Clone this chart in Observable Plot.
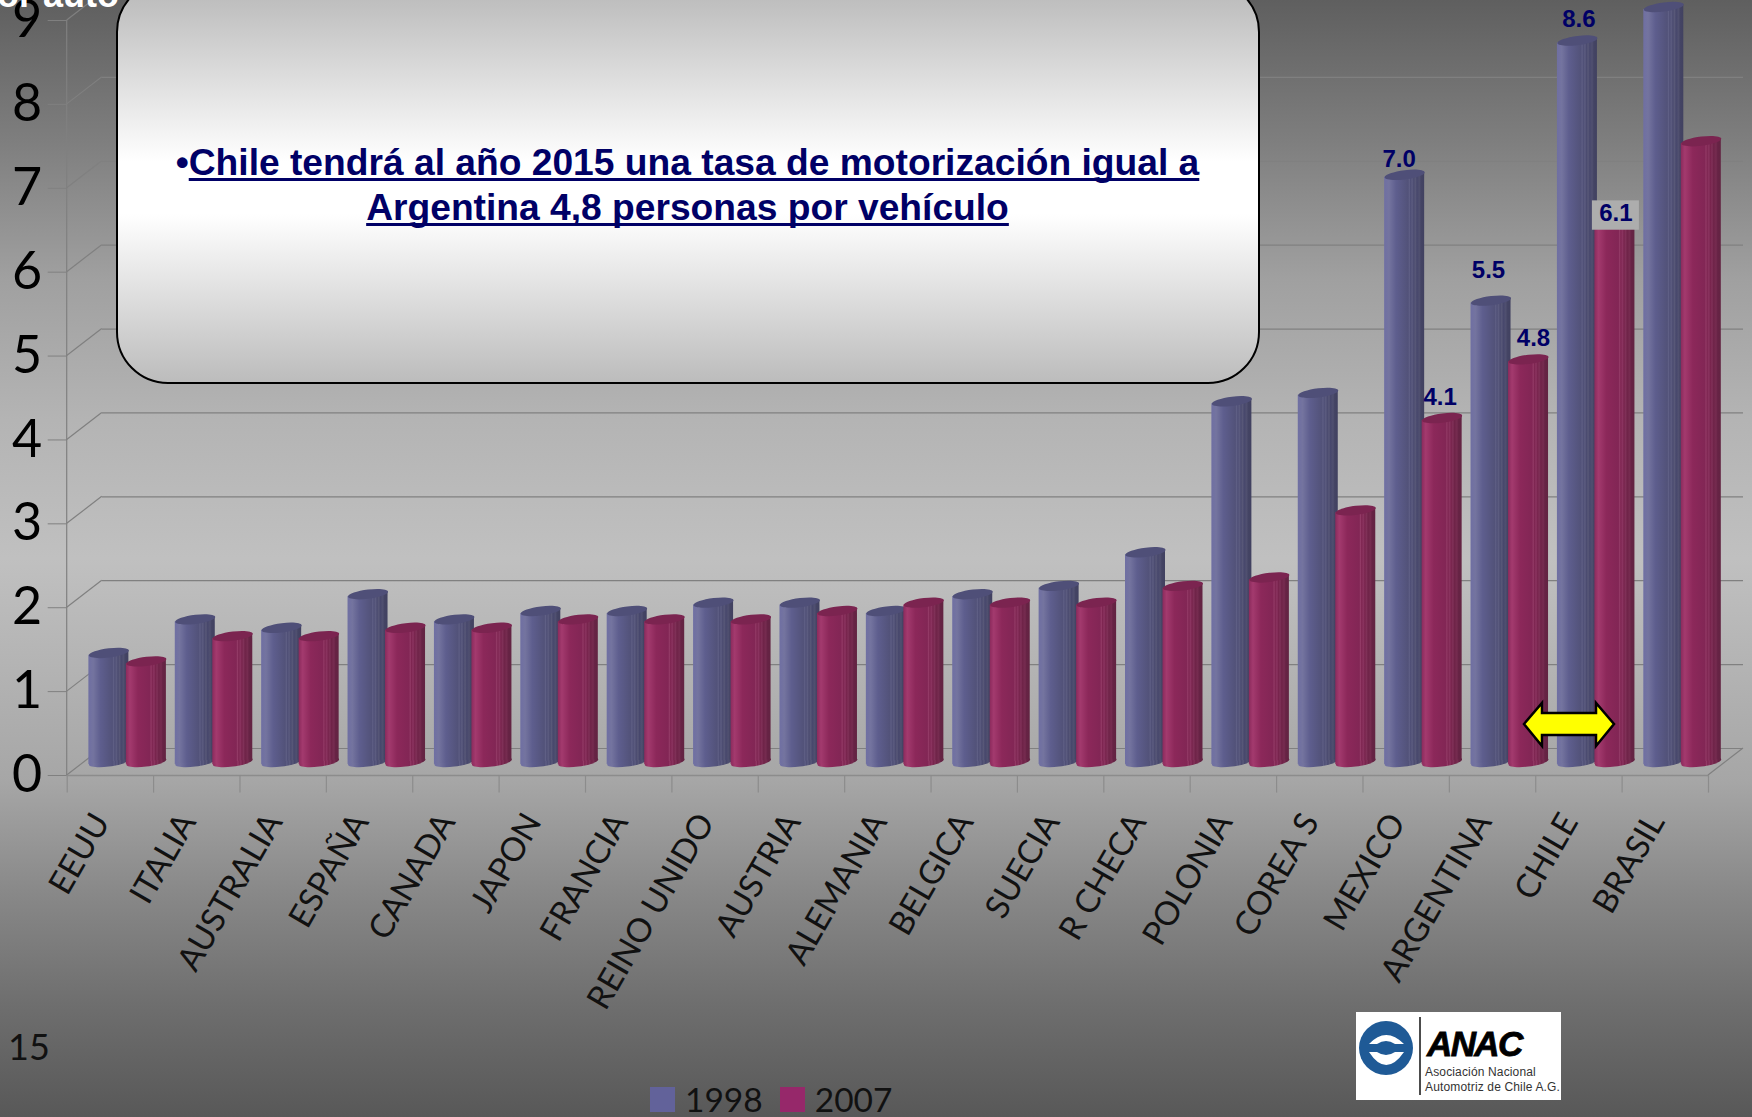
<!DOCTYPE html>
<html lang="es">
<head>
<meta charset="utf-8">
<script src="https://cdn.jsdelivr.net/npm/d3@7"></script>
<script src="https://cdn.jsdelivr.net/npm/@observablehq/plot@0.6"></script>
<style>
html,body{margin:0;padding:0;width:1752px;height:1117px;overflow:hidden;}
body{position:relative;background:linear-gradient(180deg,#5f5f5f 0%,#7e7e7e 12.5%,#a0a0a0 25%,#b4b4b4 37.6%,#c0c0c0 50%,#a6a6a6 70%,#888888 80%,#6e6e6e 90%,#585858 100%);}
#chart{position:absolute;left:0;top:0;}
#chart svg{display:block;background:transparent;max-width:none;overflow:visible;}
.abs{position:absolute;}
#topcut{left:-10px;top:-26px;width:129px;text-align:right;font:bold 36px "Liberation Sans",sans-serif;color:#fff;white-space:nowrap;direction:rtl;}
#callout{left:116px;top:-20px;width:1144px;height:404px;box-sizing:border-box;border:2.5px solid #000;border-radius:52px;
 background:linear-gradient(180deg,#b8b8b8 0%,#c2c2c2 7%,#ffffff 45%,#ffffff 58%,#bcbcbc 100%);}
#callout-text{left:117px;top:140px;width:1141px;text-align:center;font:bold 37.2px/45px "Liberation Sans",Arial,sans-serif;color:#000066;}
#callout-text u{text-decoration-thickness:3px;text-underline-offset:3px;text-decoration-skip-ink:none;}
#pageno{left:8px;top:1024px;font:36px Lato,sans-serif;color:#111;}
#legend{left:650px;top:1079px;display:flex;align-items:center;font:33.5px Lato,sans-serif;color:#111;white-space:nowrap;}
#legend i{display:inline-block;width:25px;height:25px;margin-right:10px;}
#legend span{margin-right:17px;}
</style>
</head>
<body>
<svg width="0" height="0" style="position:absolute">
  <defs>
    <linearGradient id="cylBlue" x1="0" x2="1" y1="0" y2="0">
      <stop offset="0" stop-color="#6f6fa3"/><stop offset=".12" stop-color="#74749f"/><stop offset=".3" stop-color="#5e5e8e"/>
      <stop offset=".6" stop-color="#525279"/><stop offset=".63" stop-color="#5f5f85"/><stop offset=".66" stop-color="#4f4f76"/>
      <stop offset=".7" stop-color="#5c5c80"/><stop offset=".74" stop-color="#4b4b70"/><stop offset=".78" stop-color="#585878"/>
      <stop offset=".82" stop-color="#47476c"/><stop offset=".88" stop-color="#505070"/><stop offset=".92" stop-color="#444464"/><stop offset="1" stop-color="#414160"/>
    </linearGradient>
    <linearGradient id="cylRed" x1="0" x2="1" y1="0" y2="0">
      <stop offset="0" stop-color="#8b2a5c"/><stop offset=".1" stop-color="#a33a6e"/><stop offset=".3" stop-color="#8c285a"/>
      <stop offset=".6" stop-color="#822655"/><stop offset=".63" stop-color="#933a66"/><stop offset=".66" stop-color="#7e2551"/>
      <stop offset=".7" stop-color="#8b3460"/><stop offset=".74" stop-color="#78244d"/><stop offset=".78" stop-color="#803158"/>
      <stop offset=".82" stop-color="#6f2348"/><stop offset=".88" stop-color="#762c50"/><stop offset=".92" stop-color="#672345"/><stop offset="1" stop-color="#622442"/>
    </linearGradient>
  </defs>
</svg>
<div id="chart"></div>
<div class="abs" id="topcut">or auto</div>
<div class="abs" id="callout"></div>
<div class="abs" id="callout-text">•<u>Chile tendrá al año 2015 una tasa de motorización igual a</u><br><u>Argentina 4,8 personas por vehículo</u></div>
<svg class="abs" style="left:0;top:0" width="1752" height="1117">
  <polygon points="1524,724 1542,703 1542,713 1596,713 1596,703 1614,724 1596,746 1596,735 1542,735 1542,746" fill="#ffff00" stroke="#000" stroke-width="2.5"/>
  <g>
    <rect x="1356" y="1012" width="205" height="88" fill="#fff"/>
    <circle cx="1386" cy="1048" r="27" fill="#1f5a96"/>
    <path d="M1369 1044 H1377 Q1386 1038 1395 1044 H1404 Q1386 1026 1369 1044 Z M1369 1052 H1377 Q1386 1058 1395 1052 H1404 Q1386 1078 1369 1052 Z" fill="#fff"/>
    <line x1="1420" x2="1420" y1="1017" y2="1095" stroke="#111" stroke-width="1.5"/>
    <text x="1427" y="1056" font-family="Liberation Sans" font-weight="bold" font-style="italic" font-size="35" letter-spacing="-1.6" fill="#000" stroke="#000" stroke-width=".8">ANAC</text>
    <text x="1425" y="1076" font-family="Liberation Sans" font-size="12" letter-spacing=".15" fill="#333">Asociación Nacional</text>
    <text x="1425" y="1091" font-family="Liberation Sans" font-size="12" letter-spacing=".15" fill="#333">Automotriz de Chile A.G.</text>
  </g>
</svg>
<div class="abs" id="pageno">15</div>
<div class="abs" id="legend"><i style="background:#62629a"></i><span>1998</span><i style="background:#96286a"></i><span>2007</span></div>
<script>
const countries = ["EEUU","ITALIA","AUSTRALIA","ESPAÑA","CANADA","JAPON","FRANCIA","REINO UNIDO","AUSTRIA","ALEMANIA","BELGICA","SUECIA","R CHECA","POLONIA","COREA S","MEXICO","ARGENTINA","CHILE","BRASIL"];
const values1998 = [1.3,1.7,1.6,2.0,1.7,1.8,1.8,1.9,1.9,1.8,2.0,2.1,2.5,4.3,4.4,7.0,5.5,8.6,9.0];
const values2007 = [1.2,1.5,1.5,1.6,1.6,1.7,1.7,1.7,1.8,1.9,1.9,1.9,2.1,2.2,3.0,4.1,4.8,6.6,7.4];
const yTicks = [0,1,2,3,4,5,6,7,8,9];

const rows1998 = countries.map((c,i)=>({country:c,value:values1998[i]}));
const rows2007 = countries.map((c,i)=>({country:c,value:values2007[i]}));

const back = {dx:35, dy:-27};
const FLOOR = -13.5, RX = 20, RY = 4.6, SKEW = 0.12;

// Ellipse sheared like the slanted cylinder ends.
const capSymbol = {draw(ctx){
  const k=0.5523, P=(x,y)=>[x, y - SKEW*x];
  ctx.moveTo(...P(-RX,0));
  ctx.bezierCurveTo(...P(-RX,-k*RY),...P(-k*RX,-RY),...P(0,-RY));
  ctx.bezierCurveTo(...P(k*RX,-RY),...P(RX,-k*RY),...P(RX,0));
  ctx.bezierCurveTo(...P(RX,k*RY),...P(k*RX,RY),...P(0,RY));
  ctx.bezierCurveTo(...P(-k*RX,RY),...P(-RX,k*RY),...P(-RX,0));
  ctx.closePath();
}};
const slant = (index,scales,values,dims,ctx,next)=>{
  const g = next(index,scales,values,dims,ctx);
  g.querySelectorAll("rect").forEach(r=>{
    r.style.transformBox="fill-box";
    r.style.transformOrigin="center";
    r.style.transform=`skewY(${-Math.atan(SKEW)*180/Math.PI}deg)`;
  });
  return g;
};
function cylinders(rows, dx, bodyFill, capFill){
  const inset = (86.38-2*RX)/2;
  return [
    Plot.dot(rows,{x:"country",y:()=>0,symbol:capSymbol,fill:bodyFill,dx,dy:FLOOR}),
    Plot.barY(rows,{x:"country",y:"value",fill:bodyFill,insetLeft:inset,insetRight:inset,dx,dy:FLOOR,render:slant}),
    Plot.dot(rows,{x:"country",y:"value",symbol:capSymbol,fill:capFill,dx,dy:FLOOR})
  ];
}
function wallLines(index,{x,y},values,dims){
  const g = d3.create("svg:g").attr("fill","none").attr("stroke","#808080").attr("stroke-width",1.2);
  const x0 = dims.marginLeft, x1 = dims.width-dims.marginRight;
  g.append("line").attr("x1",x0).attr("x2",x0).attr("y1",y(0)).attr("y2",y(9));
  for (const t of yTicks) g.append("line").attr("x1",x0).attr("x2",x0+back.dx).attr("y1",y(t)).attr("y2",y(t)+back.dy);
  g.append("line").attr("x1",x1).attr("x2",x1+back.dx).attr("y1",y(0)).attr("y2",y(0)+back.dy);
  return g.node();
}
const labelFont = {fontFamily:"Liberation Sans, Arial, sans-serif",fontWeight:"bold",fontSize:24,fill:"#000066"};
function label(country,y,text,dx,dy){
  return Plot.text([{country,y,text}],{x:"country",y:"y",text:"text",dx,dy,lineAnchor:"bottom",...labelFont});
}

const plot = Plot.plot({
  width:1752,height:1117,
  marginLeft:66.7,marginRight:44,marginTop:20,marginBottom:342,
  x:{type:"band",domain:countries,padding:0,round:false,label:null},
  y:{domain:[0,9],nice:false,label:null},
  style:{background:"transparent"},
  marks:[
    Plot.ruleY(yTicks,{stroke:"#808080",strokeWidth:1.2,dx:back.dx,dy:back.dy}),
    wallLines,
    Plot.ruleY([0],{stroke:"#8c8c8c",strokeWidth:1.5}),
    Plot.ruleX(countries,{x:d=>d,y1:0,y2:-0.21,dx:-43.19,stroke:"#8c8c8c",strokeWidth:1.2}),
    Plot.ruleX(countries.slice(-1),{x:d=>d,y1:0,y2:-0.21,dx:43.19,stroke:"#8c8c8c",strokeWidth:1.2}),
    Plot.axisY({ticks:yTicks,tickSize:19,tickPadding:6,fontSize:52,fontFamily:"Lato, sans-serif",fill:"#000",stroke:"#808080",label:null}),
    Plot.axisX({tickSize:0,tickRotate:-60,tickPadding:41,dx:-9,fontSize:33,fontFamily:"Lato, sans-serif",fill:"#111",label:null}),
    ...cylinders(rows1998,-1.5,"url(#cylBlue)","#4f4f78"),
    ...cylinders(rows2007,36,"url(#cylRed)","#7b2450"),
    label("MEXICO",7.0,"7.0",-7,-21),
    label("MEXICO",4.1,"4.1",34,-27),
    label("ARGENTINA",5.5,"5.5",-4,-36),
    label("ARGENTINA",4.8,"4.8",41,-27),
    label("CHILE",8.6,"8.6",0,-27),
    Plot.barY([{country:"CHILE",y1:6.5,y2:6.85}],{x:"country",y1:"y1",y2:"y2",fill:"#adadad",insetLeft:19.7,insetRight:19.7,dx:37}),
    label("CHILE",6.6,"6.1",37,-1)
  ]
});
document.getElementById("chart").append(plot);
</script>
</body>
</html>
